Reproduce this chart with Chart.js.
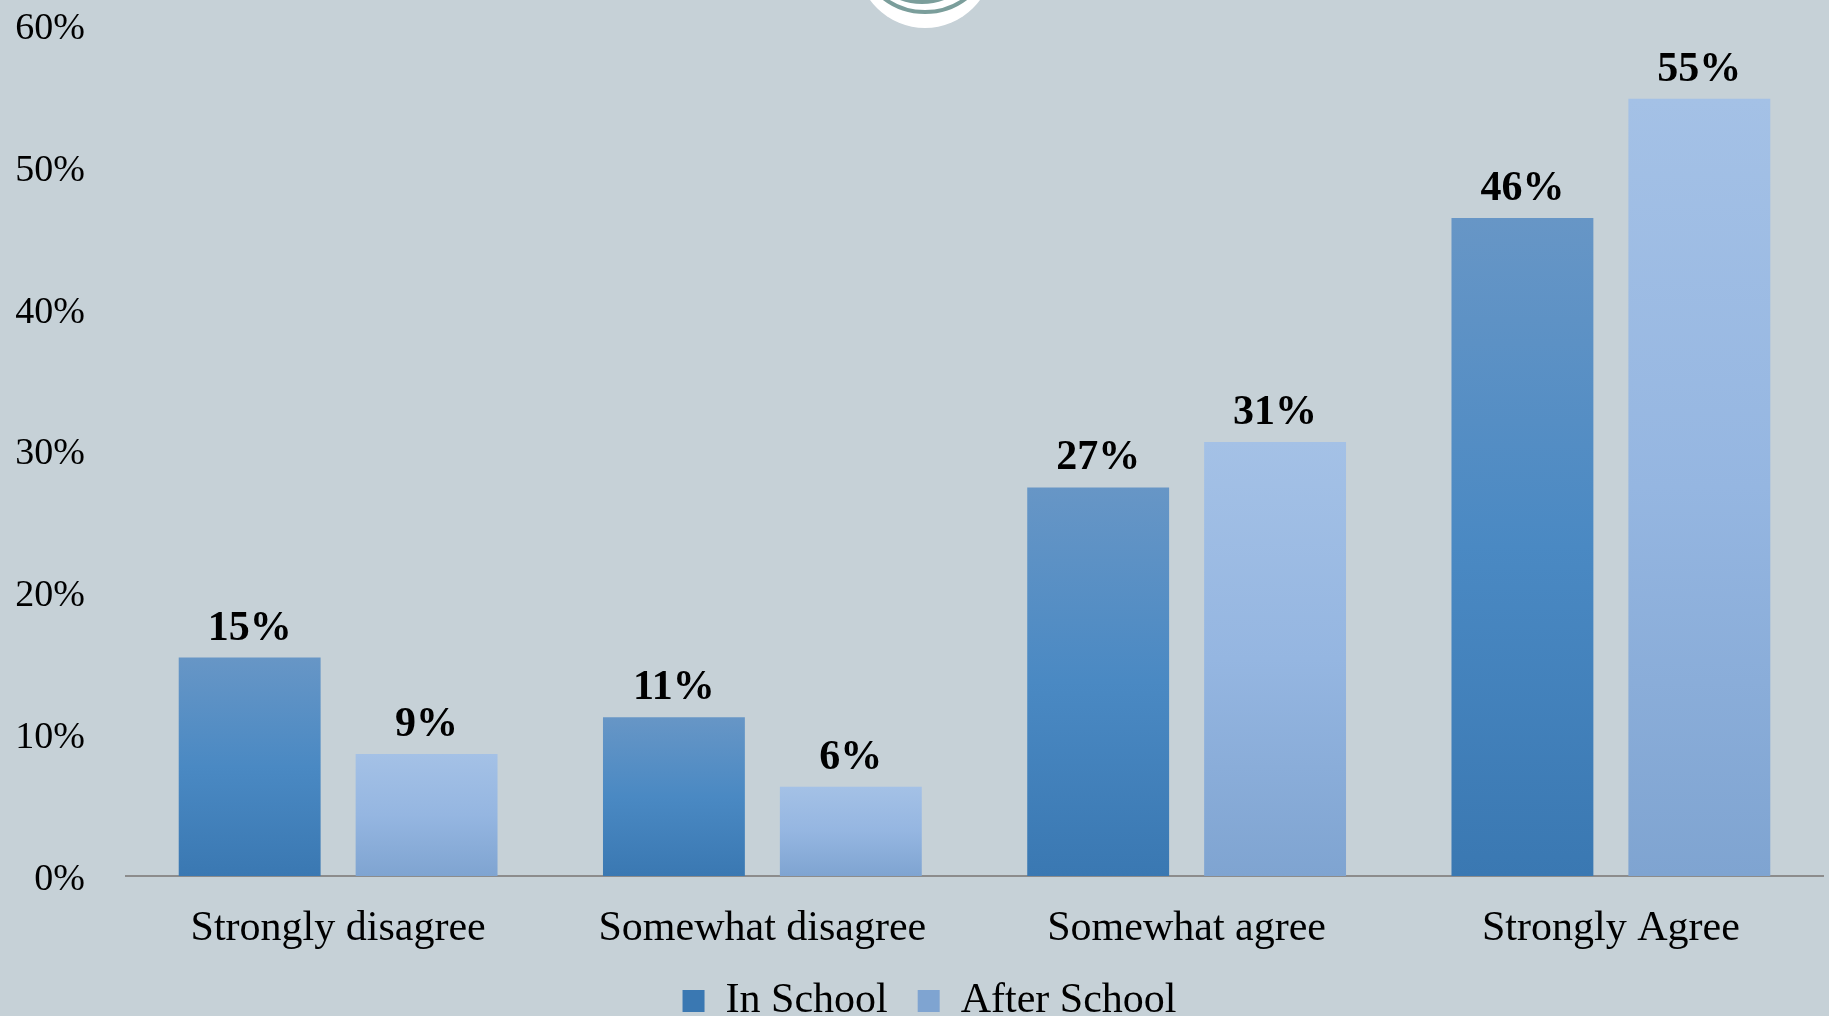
<!DOCTYPE html>
<html>
<head>
<meta charset="utf-8">
<script src="https://cdn.jsdelivr.net/npm/chart.js@4.4.0/dist/chart.umd.min.js"></script>
<style>
  html, body { margin: 0; padding: 0; background: #c6d1d7; }
  .wrap { width: 1829px; height: 1016px; position: relative; }
</style>
</head>
<body>
<div class="wrap"><canvas id="chart1"></canvas></div>
<script>
// data
const categories = ['Strongly disagree', 'Somewhat disagree', 'Somewhat agree', 'Strongly Agree'];
const inSchool = [15.4, 11.2, 27.4, 46.4];
const afterSchool = [8.6, 6.3, 30.6, 54.8];
const yTicks = [0, 10, 20, 30, 40, 50, 60];

const serif = '"Liberation Serif", "Times New Roman", serif';

// bar fill, lighter at the top of each bar
function barFill(stops, flat) {
    return ctx => {
        const chart = ctx.chart;
        if (ctx.type !== 'data' || !chart.chartArea) return flat;
        const y = chart.scales.y;
        const top = y.getPixelForValue(ctx.raw);
        const bottom = y.getPixelForValue(0);
        const g = chart.ctx.createLinearGradient(0, top, 0, bottom);
        g.addColorStop(0, stops[0]);
        g.addColorStop(0.5, stops[1]);
        g.addColorStop(1, stops[2]);
        return g;
    };
}

// bold % labels over the bars
const valueLabels = {
    id: 'valueLabels',
    afterDatasetsDraw(chart) {
        const c = chart.ctx;
        c.save();
        c.font = 'bold 42px ' + serif;
        c.fillStyle = '#000';
        c.textAlign = 'center';
        c.textBaseline = 'alphabetic';
        chart.data.datasets.forEach((ds, i) => {
            chart.getDatasetMeta(i).data.forEach((bar, j) => {
                c.fillText(Math.round(ds.data[j]) + '%', bar.x, bar.y - 18);
            });
        });
        c.restore();
    }
};

// legend sits a little right of centre in the original
const legendNudge = {
    id: 'legendNudge',
    afterLayout(chart) {
        chart.legend.left += 18;
        chart.legend.right += 18;
    }
};

// bit of the logo peeking in at the top
const logo = {
    id: 'logo',
    afterDraw(chart) {
        const c = chart.ctx;
        c.save();
        c.fillStyle = '#ffffff';
        c.beginPath();
        c.arc(925, -40, 68, 0, Math.PI * 2);
        c.fill();
        c.strokeStyle = '#7b9e9b';
        c.lineWidth = 4;
        c.beginPath();
        c.arc(925, -56, 68, 0, Math.PI);
        c.stroke();
        c.beginPath();
        c.arc(922, -56, 58, 0, Math.PI);
        c.stroke();
        c.restore();
    }
};

const ctx = document.getElementById('chart1');
const chart1 = new Chart(ctx, {
    type: 'bar',
    data: {
        labels: categories,
        datasets: [{
            label: 'In School',
            data: inSchool,
            backgroundColor: barFill(['#6796c6', '#4a89c3', '#3a78b2'], '#5089c2'),
            categoryPercentage: 0.834,
            barPercentage: 0.802
        }, {
            label: 'After School',
            data: afterSchool,
            backgroundColor: barFill(['#a4c1e6', '#95b6e1', '#7fa4d1'], '#93b4df'),
            categoryPercentage: 0.834,
            barPercentage: 0.802
        }]
    },
    options: {
        responsive: true,
        maintainAspectRatio: false,
        animation: false,
        layout: {
            padding: { left: 0, right: 6, top: 25, bottom: -16 }
        },
        scales: {
            x: {
                afterFit: s => { s.height = 74; },
                grid: { display: false, drawTicks: false },
                border: { display: true, color: '#8c8c8c', width: 2 },
                ticks: {
                    color: '#000',
                    font: { family: serif, size: 42 },
                    padding: 28,
                    maxRotation: 0
                }
            },
            y: {
                min: 0,
                max: 60,
                afterBuildTicks: s => { s.ticks = yTicks.map(v => ({ value: v })); },
                afterFit: s => { s.width = 126; s.paddingTop = 0; s.paddingBottom = 0; },
                grid: { display: false, drawTicks: false },
                border: { display: false },
                ticks: {
                    color: '#000',
                    font: { family: serif, size: 38 },
                    padding: 41,
                    labelOffset: 4,
                    callback: v => v + '%'
                }
            }
        },
        plugins: {
            legend: {
                position: 'bottom',
                labels: {
                    color: '#000',
                    font: { family: serif, size: 42 },
                    boxWidth: 22,
                    boxHeight: 22,
                    padding: 30
                }
            },
            tooltip: { enabled: false }
        }
    },
    plugins: [valueLabels, legendNudge, logo]
});
</script>
</body>
</html>
